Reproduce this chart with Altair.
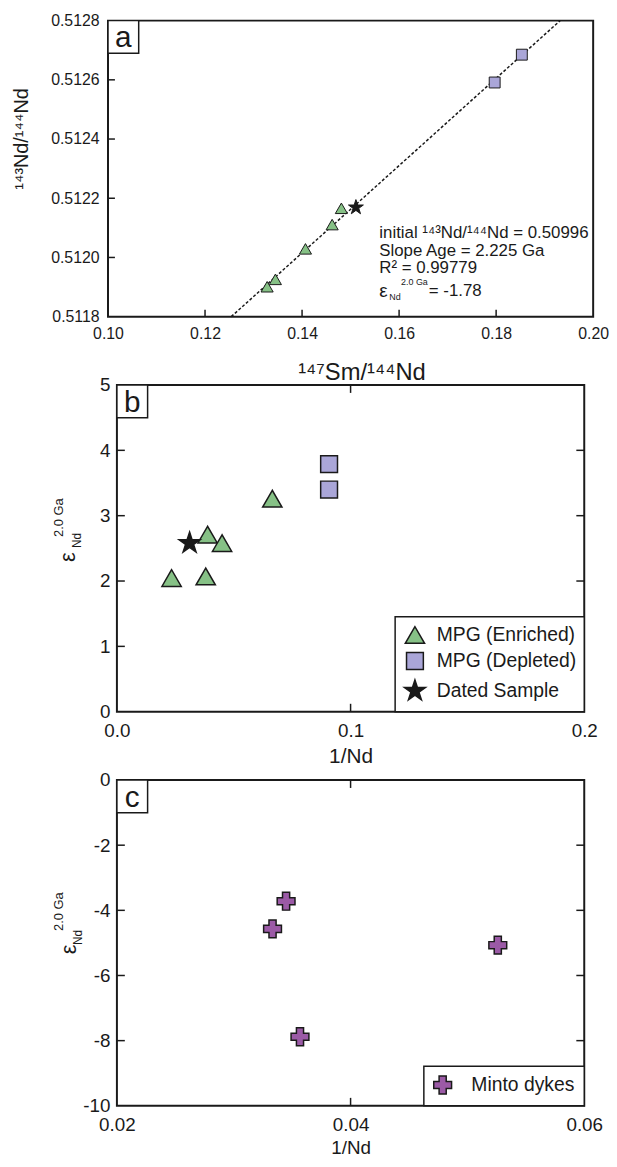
import altair as alt
import pandas as pd

FONT = "Liberation Sans"
INK = "#1a1a1a"
GREEN = "#86c186"
LAV = "#aaa6d8"
PURP = "#9b5aa6"
STAR = ("M0,-1L0.225,-0.309L0.951,-0.309L0.363,0.118L0.588,0.809L0,0.382"
        "L-0.588,0.809L-0.363,0.118L-0.951,-0.309L-0.225,-0.309Z")

# ---------------- data: panel a (isochron) ----------------
a_groups = ["MPG (Enriched)"] * 5 + ["MPG (Depleted)"] * 2 + ["Dated Sample"]
a_x = [0.1328, 0.1345, 0.1407, 0.1462, 0.1481, 0.1797, 0.1853, 0.1511]
a_y = [0.511901, 0.511926, 0.512029, 0.512111, 0.512166, 0.512591, 0.512685, 0.512169]
a_line_x = [0.1254, 0.1932]
a_line_y = [0.5118, 0.5128]
a_xticks = [0.10, 0.12, 0.14, 0.16, 0.18, 0.20]
a_yticks = [0.5118, 0.5120, 0.5122, 0.5124, 0.5126, 0.5128]

# ---------------- data: panel b ----------------
b_groups = ["MPG (Enriched)"] * 5 + ["MPG (Depleted)"] * 2 + ["Dated Sample"]
b_x = [0.0234, 0.0380, 0.0388, 0.0450, 0.0665, 0.0908, 0.0908, 0.0311]
b_y = [2.045, 2.07, 2.71, 2.58, 3.26, 3.79, 3.40, 2.58]
b_xticks = [0.0, 0.1, 0.2]
b_yticks = [0, 1, 2, 3, 4, 5]

# ---------------- data: panel c ----------------
c_groups = ["Minto dykes"] * 4
c_x = [0.03448, 0.03332, 0.0526, 0.03567]
c_y = [-3.72, -4.57, -5.07, -7.88]
c_xticks = [0.02, 0.04, 0.06]
c_yticks = [-10, -8, -6, -4, -2, 0]

cats = ["MPG (Enriched)", "MPG (Depleted)", "Dated Sample"]

WA, HA = 490, 299
WB, HB = 472, 330
WC, HC = 472, 329
TICK = 8


def note(text, x, y, size, angle=0, align="left", baseline="middle"):
    return alt.Chart(pd.DataFrame({"t": [text]})).mark_text(
        font=FONT, fontSize=size, color=INK, align=align, baseline=baseline, angle=angle
    ).encode(x=alt.value(x), y=alt.value(y), text="t:N")


def tag(letter):
    df = pd.DataFrame({"t": [letter]})
    box = alt.Chart(df).mark_rect(fill="white", stroke=INK, strokeWidth=1.5).encode(
        x=alt.value(0), x2=alt.value(31), y=alt.value(0), y2=alt.value(33))
    txt = alt.Chart(df).mark_text(font=FONT, fontSize=30, color=INK, align="center",
                                  baseline="alphabetic").encode(
        x=alt.value(15.5), y=alt.value(27), text="t:N")
    return [box, txt]


def inner_ticks(xs, ys, xscale, yscale, w, h, both=True, tl=TICK):
    layers = []
    dx = pd.DataFrame({"x": xs})
    dy = pd.DataFrame({"y": ys})
    layers.append(alt.Chart(dx).mark_rule(color=INK, strokeWidth=1.5).encode(
        x=alt.X("x:Q", scale=xscale), y=alt.value(h), y2=alt.value(h - tl)))
    layers.append(alt.Chart(dy).mark_rule(color=INK, strokeWidth=1.5).encode(
        y=alt.Y("y:Q", scale=yscale), x=alt.value(0), x2=alt.value(tl)))
    if both:
        layers.append(alt.Chart(dx).mark_rule(color=INK, strokeWidth=1.5).encode(
            x=alt.X("x:Q", scale=xscale), y=alt.value(0), y2=alt.value(tl)))
        layers.append(alt.Chart(dy).mark_rule(color=INK, strokeWidth=1.5).encode(
            y=alt.Y("y:Q", scale=yscale), x=alt.value(w - tl), x2=alt.value(w)))
    return layers


def axis(values, fmt=None, size=16, pad=8, title=None, expr=None, **kw):
    args = dict(values=values, labelFontSize=size, labelFont=FONT, labelColor=INK,
                ticks=False, tickSize=0, domain=False, grid=False, labelPadding=pad,
                labelFlush=False, labelOverlap=False, title=title,
                titleFont=FONT, titleColor=INK, titleFontWeight="normal")
    if fmt:
        args["format"] = fmt
    if expr:
        args["labelExpr"] = expr
    args.update(kw)
    return alt.Axis(**args)


def legend(pad, offset, size, rowpad=3):
    return alt.Legend(orient="bottom-right", title=None, offset=0, padding=pad,
                      strokeColor=INK, fillColor="white", labelFontSize=size, labelFont=FONT,
                      labelColor=INK, rowPadding=rowpad, labelOffset=offset,
                      symbolStrokeColor=INK, symbolStrokeWidth=1.5, cornerRadius=0,
                      labelLimit=400)


# ---------------- panel a ----------------
xa = alt.Scale(domain=[0.10, 0.20], nice=False, zero=False)
ya = alt.Scale(domain=[0.5118, 0.5128], nice=False, zero=False)
dfa = pd.DataFrame({"x": a_x, "y": a_y, "g": a_groups})
dfl = pd.DataFrame({"x": a_line_x, "y": a_line_y})

a_line = alt.Chart(dfl).mark_line(color=INK, strokeWidth=1.5, strokeDash=[3, 2]).encode(
    x=alt.X("x:Q", scale=xa,
            axis=axis(a_xticks, ".2f", 16, 9, title="¹⁴⁷Sm/¹⁴⁴Nd", titleFontSize=24,
                      titleX=256, titleY=63, titleBaseline="alphabetic")),
    y=alt.Y("y:Q", scale=ya,
            axis=axis(a_yticks, ".4f", 16, 9, title="¹⁴³Nd/¹⁴⁴Nd", titleFontSize=20,
                      titleX=-87, titleY=119, titleAngle=270, titleAlign="center",
                      titleBaseline="middle")),
)
a_pts = alt.Chart(dfa).mark_point(filled=True, opacity=1, stroke=INK, strokeWidth=1).encode(
    x=alt.X("x:Q", scale=xa), y=alt.Y("y:Q", scale=ya),
    color=alt.Color("g:N", scale=alt.Scale(domain=cats, range=[GREEN, LAV, INK]), legend=None),
    shape=alt.Shape("g:N", scale=alt.Scale(domain=cats, range=["triangle-up", "square", STAR]), legend=None),
    size=alt.Size("g:N", scale=alt.Scale(type="ordinal", domain=cats, range=[150, 121, 250]), legend=None),
)
a_notes = [
    note("initial ¹⁴³Nd/¹⁴⁴Nd = 0.50996", 274, 215, 17),
    note("Slope Age = 2.225 Ga", 274, 233, 17),
    note("R² = 0.99779", 274, 250, 17),
    note("ε", 274, 273, 19),
    note("Nd", 284, 279, 9),
    note("2.0 Ga", 296, 264, 9),
    note("= -1.78", 324, 273, 17),
]
panel_a = alt.layer(
    a_line, *inner_ticks(a_xticks[1:-1], a_yticks[1:-1], xa, ya, WA, HA, both=False, tl=7),
    a_pts, *a_notes, *tag("a")
).properties(width=WA, height=HA)

# ---------------- panel b ----------------
xb = alt.Scale(domain=[0.0, 0.2], nice=False, zero=False)
yb = alt.Scale(domain=[0, 5], nice=False, zero=False)
dfb = pd.DataFrame({"x": b_x, "y": b_y, "g": b_groups})
leg_b = legend(8, 10, 19.5, 3)
b_pts = alt.Chart(dfb).mark_point(filled=True, opacity=1, stroke=INK, strokeWidth=1.5).encode(
    x=alt.X("x:Q", scale=xb,
            axis=axis(b_xticks, ".1f", 19, 10, title="1/Nd", titleFontSize=21,
                      titleY=51, titleBaseline="alphabetic")),
    y=alt.Y("y:Q", scale=yb, axis=axis(b_yticks, "d", 19, 7)),
    color=alt.Color("g:N", scale=alt.Scale(domain=cats, range=[GREEN, LAV, INK]), legend=leg_b),
    shape=alt.Shape("g:N", scale=alt.Scale(domain=cats, range=["triangle-up", "square", STAR]), legend=leg_b),
    size=alt.Size("g:N", scale=alt.Scale(type="ordinal", domain=cats, range=[380, 289, 500]), legend=leg_b),
)
eps_b = [note("ε", -49, 174, 22, angle=270, align="center"),
         note("Nd", -40, 157, 12, angle=270, align="center"),
         note("2.0 Ga", -58, 134, 13, angle=270, align="center")]
panel_b = alt.layer(
    *inner_ticks(b_xticks[1:-1], b_yticks[1:-1], xb, yb, WB, HB),
    b_pts, *eps_b, *tag("b")
).properties(width=WB, height=HB)

# ---------------- panel c ----------------
xc = alt.Scale(domain=[0.02, 0.06], nice=False, zero=False)
yc = alt.Scale(domain=[-10, 0], nice=False, zero=False)
dfc = pd.DataFrame({"x": c_x, "y": c_y, "g": c_groups})
leg_c = legend(9, 19, 19.5, 3)
c_pts = alt.Chart(dfc).mark_point(filled=True, opacity=1, stroke=INK, strokeWidth=1.5).encode(
    x=alt.X("x:Q", scale=xc,
            axis=axis(c_xticks, ".2f", 19, 9.5, title="1/Nd", titleFontSize=19,
                      titleY=48, titleBaseline="alphabetic")),
    y=alt.Y("y:Q", scale=yc, axis=axis(c_yticks, None, 19, 7, expr="'' + datum.value")),
    color=alt.Color("g:N", scale=alt.Scale(domain=["Minto dykes"], range=[PURP]), legend=leg_c),
    shape=alt.Shape("g:N", scale=alt.Scale(domain=["Minto dykes"], range=["cross"]), legend=leg_c),
    size=alt.Size("g:N", scale=alt.Scale(type="ordinal", domain=["Minto dykes"], range=[324]), legend=leg_c),
)
eps_c = [note("ε", -48, 171, 22, angle=270, align="center"),
         note("Nd", -39, 159, 12, angle=270, align="center"),
         note("2.0 Ga", -58, 133, 13, angle=270, align="center")]
panel_c = alt.layer(
    *inner_ticks(c_xticks[1:-1], c_yticks[1:-1], xc, yc, WC, HC),
    c_pts, *eps_c, *tag("c")
).properties(width=WC, height=HC)

chart = alt.vconcat(panel_a, panel_b, panel_c, spacing=69, bounds="flush", center=True).resolve_scale(
    color="independent", shape="independent", size="independent"
).resolve_legend(
    color="independent", shape="independent", size="independent"
).properties(
    autosize=alt.AutoSizeParams(type="none"),
    padding={"left": 101, "top": 7, "right": 506, "bottom": 1144},
).configure_view(stroke=INK, strokeWidth=2).configure_legend(strokeWidth=1.5)

chart.save("out.html", embed_options={"renderer": "svg", "actions": False})
